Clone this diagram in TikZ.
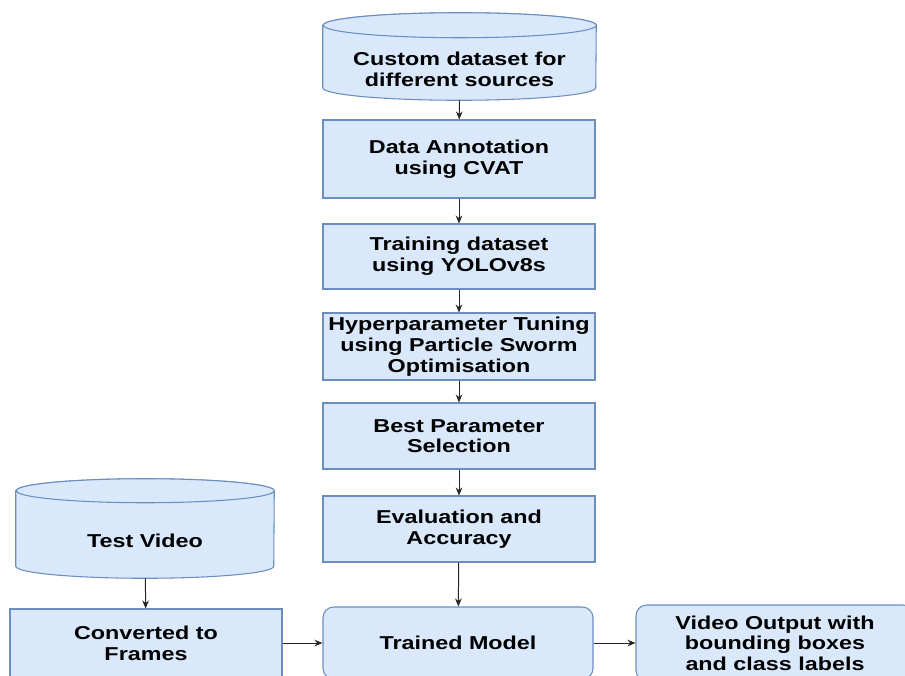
\documentclass[tikz,border=0pt]{standalone}
\usepackage{fontspec}
\setmainfont{Liberation Sans}[FakeStretch=1.25]
\usetikzlibrary{shapes, positioning, arrows.meta, backgrounds}
\definecolor{boxfill}{HTML}{DAE8FC}
\definecolor{boxline}{HTML}{6C8EBF}

% cylinder drawn round a node: #1 node, #2 x radius, #3 y radius
\newcommand{\storeshape}[3]{%
  \begin{scope}[on background layer]
    \draw[store_line] ([yshift=#3]#1.north west) -- ([yshift=#3]#1.south west) arc[start angle=180, end angle=360, x radius=#2, y radius=#3] -- ([yshift=#3]#1.north east) arc[start angle=0, end angle=180, x radius=#2, y radius=#3] -- cycle;
    \draw[store_line] ([yshift=#3]#1.north east) arc[start angle=0, end angle=360, x radius=#2, y radius=#3];
  \end{scope}}

\begin{document}
\begin{tikzpicture}[x=0.75pt, y=-0.75pt, >={Stealth[length=6pt, width=5pt]}, font=\fontsize{14}{15.5}\selectfont\bfseries]
\tikzstyle{flow_box}=[rectangle, draw=boxline, fill=boxfill, line width=0.8pt, align=center, minimum width=204pt, inner sep=2pt]
\tikzstyle{data_store}=[rectangle, align=center, inner sep=2pt]
\tikzstyle{store_line}=[draw=boxline, fill=boxfill, line width=0.8pt]
\tikzstyle{flow_arrow}=[->, black!85, line width=0.75pt]

\clip (0,0) rectangle (905,675);

% main column
\node[data_store, minimum width=204.75pt, minimum height=46.5pt] at (459.5,69) (dataset) {Custom dataset for\\different sources};
\storeshape{dataset}{102.375pt}{9.375pt}
\node[flow_box, minimum height=58.5pt] at (459,159) (annot) {Data Annotation\\using CVAT};
\node[flow_box, minimum height=48.75pt] at (459,256.5) (train) {Training dataset\\using YOLOv8s};
\node[flow_box, minimum height=50.25pt] at (459,346.5) (tuning) {Hyperparameter Tuning\\using Particle Sworm\\Optimisation};
\node[flow_box, minimum height=49.5pt] at (459,436) (best) {Best Parameter\\Selection};
\node[flow_box, minimum height=49.5pt] at (459,529) (eval) {Evaluation and\\Accuracy};
\node[flow_box, rounded corners=8pt, minimum width=202.5pt, minimum height=54pt] at (458,643) (model) {Trained Model};

% test branch and output
\node[data_store, minimum width=193.5pt, minimum height=56.25pt] at (145,540.5) (video) {Test Video};
\storeshape{video}{96.75pt}{9pt}
\node[flow_box, minimum height=51pt] at (146,643) (frames) {Converted to\\Frames};
\node[flow_box, rounded corners=8pt, minimum width=208.5pt, minimum height=57pt] at (775,643) (output) {Video Output with\\bounding boxes\\and class labels};

\path [flow_arrow] (dataset) edge (annot);
\path [flow_arrow] (annot) edge (train);
\path [flow_arrow] (train) edge (tuning);
\path [flow_arrow] (tuning) edge (best);
\path [flow_arrow] (best) edge (eval);
\path [flow_arrow] (eval) edge (model);
\path [flow_arrow] (video) edge (frames);
\path [flow_arrow] (frames) edge (model);
\path [flow_arrow] (model) edge (output);

\end{tikzpicture}
\end{document}
